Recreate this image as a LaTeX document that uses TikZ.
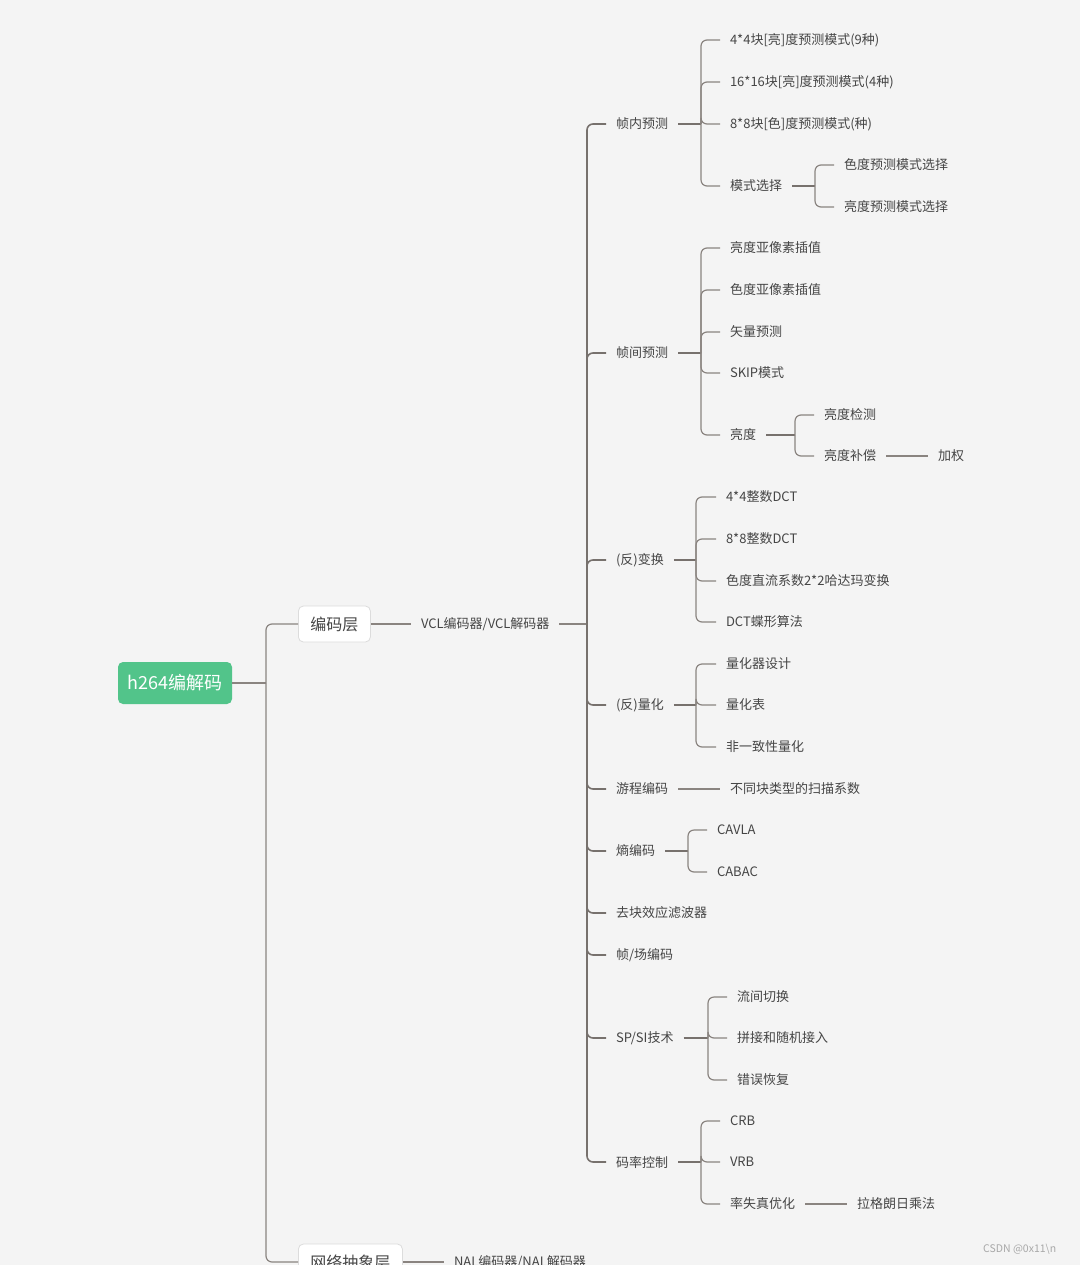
\documentclass[tikz,border=0pt]{standalone}
\usepackage{fontspec}
\setmainfont{Noto Sans CJK SC}
\definecolor{bg}{HTML}{F4F4F4}
\definecolor{txt}{HTML}{454545}
\definecolor{lnc}{HTML}{8A8480}
\definecolor{lnd}{HTML}{77716D}
\definecolor{rootg}{HTML}{52C48A}
\definecolor{boxb}{HTML}{DCDCDC}
\definecolor{wm}{HTML}{A8A8A8}
\tikzset{
  leaf/.style={anchor=west, inner xsep=10pt, inner ysep=2pt, outer sep=0pt, text=txt, font=\fontsize{13}{15}\selectfont},
  rootbox/.style={fill=rootg, rounded corners=5pt, minimum width=114pt, minimum height=42pt, text=white, font=\fontsize{18}{20}\selectfont, inner sep=0pt},
  lvlbox/.style={fill=white, draw=boxb, line width=0.8pt, rounded corners=5pt, minimum height=36pt, inner xsep=12pt, text=txt, font=\fontsize{16}{18}\selectfont, anchor=west},
  ln/.style={draw=lnc, line width=1.2pt},
  lnp/.style={draw=lnd, line width=1.8pt},
  br/.style={draw=lnc, line width=1.2pt, rounded corners=6pt},
}
\begin{document}
\begin{tikzpicture}[x=1pt,y=-1pt]
\path[fill=bg] (0,0) rectangle (1080,1265);
\useasboundingbox (0,0) rectangle (1080,1265);
\clip (0,0) rectangle (1080,1265);

% root and level 1
\node[rootbox] (root) at (175,683) {h264编解码};
\node[lvlbox] (enc) at (298,624) {编码层};
\node[lvlbox] (nal) at (298,1262) {网络抽象层};
\coordinate (t1) at (266,683);
\draw[ln] (root.east) -- (t1);
\draw[br] (t1) |- (enc.west);
\draw[br] (t1) |- (nal.west);

\node[leaf] (vcl) at (411,624) {VCL编码器/VCL解码器};
\draw[ln] (enc.east) -- (vcl.west);
\node[leaf] (nalc) at (444,1262) {NAL编码器/NAL解码器};
\draw[ln] (nal.east) -- (nalc.west);

\coordinate (t2) at (587,624);
\draw[ln] (vcl.east) -- (t2);

% level 3
\node[leaf] (p1) at (606,124) {帧内预测};
\node[leaf] (p2) at (606,353) {帧间预测};
\node[leaf] (p3) at (606,560) {(反)变换};
\node[leaf] (p4) at (606,705) {(反)量化};
\node[leaf] (p5) at (606,789) {游程编码};
\node[leaf] (p6) at (606,851) {熵编码};
\node[leaf] (p7) at (606,913) {去块效应滤波器};
\node[leaf] (p8) at (606,955) {帧/场编码};
\node[leaf] (p9) at (606,1038) {SP/SI技术};
\node[leaf] (p10) at (606,1162) {码率控制};
\foreach \p in {p1,p2,p3,p4,p5,p6,p7,p8,p9,p10}
  \draw[br, line width=1.6pt, draw=lnd] (t2) |- (\p.west);

% 帧内预测
\coordinate (b1) at (701,124);
\draw[lnp] (p1.east) -- (b1);
\node[leaf] (c11) at (720,40) {4*4块[亮]度预测模式(9种)};
\node[leaf] (c12) at (720,82) {16*16块[亮]度预测模式(4种)};
\node[leaf] (c13) at (720,124) {8*8块[色]度预测模式(种)};
\node[leaf] (c14) at (720,186) {模式选择};
\foreach \c in {c11,c12,c13,c14} \draw[br] (b1) |- (\c.west);
\coordinate (b14) at (815,186);
\draw[lnp] (c14.east) -- (b14);
\node[leaf] (c141) at (834,165) {色度预测模式选择};
\node[leaf] (c142) at (834,207) {亮度预测模式选择};
\foreach \c in {c141,c142} \draw[br] (b14) |- (\c.west);

% 帧间预测
\coordinate (b2) at (701,353);
\draw[lnp] (p2.east) -- (b2);
\node[leaf] (c21) at (720,248) {亮度亚像素插值};
\node[leaf] (c22) at (720,290) {色度亚像素插值};
\node[leaf] (c23) at (720,332) {矢量预测};
\node[leaf] (c24) at (720,373) {SKIP模式};
\node[leaf] (c25) at (720,435) {亮度};
\foreach \c in {c21,c22,c23,c24,c25} \draw[br] (b2) |- (\c.west);
\coordinate (b25) at (795,435);
\draw[lnp] (c25.east) -- (b25);
\node[leaf] (c251) at (814,415) {亮度检测};
\node[leaf] (c252) at (814,456) {亮度补偿};
\foreach \c in {c251,c252} \draw[br] (b25) |- (\c.west);
\node[leaf] (c2521) at (928,456) {加权};
\draw[ln] (c252.east) -- (c2521.west);

% (反)变换
\coordinate (b3) at (696,560);
\draw[lnp] (p3.east) -- (b3);
\node[leaf] (c31) at (716,497) {4*4整数DCT};
\node[leaf] (c32) at (716,539) {8*8整数DCT};
\node[leaf] (c33) at (716,581) {色度直流系数2*2哈达玛变换};
\node[leaf] (c34) at (716,622) {DCT蝶形算法};
\foreach \c in {c31,c32,c33,c34} \draw[br] (b3) |- (\c.west);

% (反)量化
\coordinate (b4) at (696,705);
\draw[lnp] (p4.east) -- (b4);
\node[leaf] (c41) at (716,664) {量化器设计};
\node[leaf] (c42) at (716,705) {量化表};
\node[leaf] (c43) at (716,747) {非一致性量化};
\foreach \c in {c41,c42,c43} \draw[br] (b4) |- (\c.west);

% 游程编码
\node[leaf] (c51) at (720,789) {不同块类型的扫描系数};
\draw[ln] (p5.east) -- (c51.west);

% 熵编码
\coordinate (b6) at (688,851);
\draw[lnp] (p6.east) -- (b6);
\node[leaf] (c61) at (707,830) {CAVLA};
\node[leaf] (c62) at (707,872) {CABAC};
\foreach \c in {c61,c62} \draw[br] (b6) |- (\c.west);

% SP/SI技术
\coordinate (b9) at (708,1038);
\draw[lnp] (p9.east) -- (b9);
\node[leaf] (c91) at (727,997) {流间切换};
\node[leaf] (c92) at (727,1038) {拼接和随机接入};
\node[leaf] (c93) at (727,1080) {错误恢复};
\foreach \c in {c91,c92,c93} \draw[br] (b9) |- (\c.west);

% 码率控制
\coordinate (b10) at (701,1162);
\draw[lnp] (p10.east) -- (b10);
\node[leaf] (c101) at (720,1121) {CRB};
\node[leaf] (c102) at (720,1162) {VRB};
\node[leaf] (c103) at (720,1204) {率失真优化};
\foreach \c in {c101,c102,c103} \draw[br] (b10) |- (\c.west);
\node[leaf] (c1031) at (847,1204) {拉格朗日乘法};
\draw[ln] (c103.east) -- (c1031.west);

% watermark
\node[anchor=west, inner sep=0pt, text=wm, font=\fontsize{10.5}{12}\selectfont] (wmk) at (983,1249) {CSDN @0x11\textbackslash n};
\end{tikzpicture}
\end{document}
